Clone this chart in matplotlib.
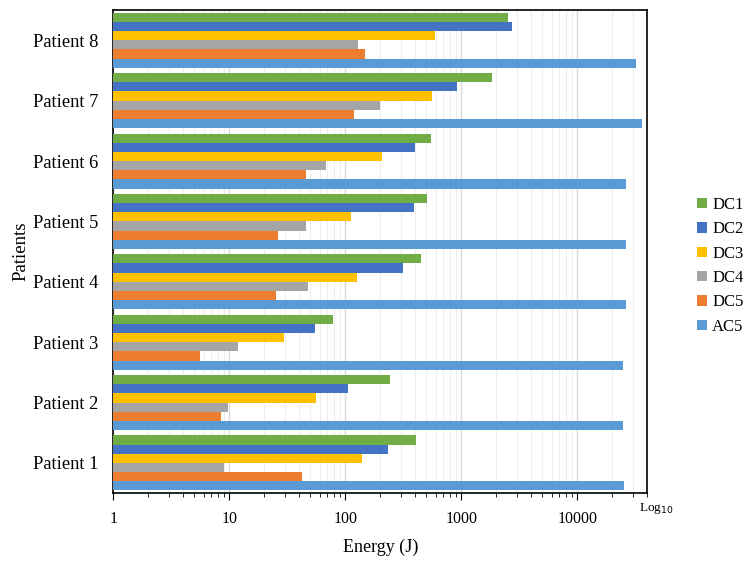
import numpy as np
import matplotlib.pyplot as plt
from matplotlib.ticker import FixedLocator, NullFormatter, LogLocator

plt.rcParams['font.family'] = ['Liberation Serif', 'DejaVu Serif']

patients = ["Patient 1", "Patient 2", "Patient 3", "Patient 4",
            "Patient 5", "Patient 6", "Patient 7", "Patient 8"]

# energies in joules
dc1 = [410, 244, 77.5, 452, 510, 544, 1830, 2550]
dc2 = [234, 106, 54.4, 313, 390, 398, 925, 2730]
dc3 = [140, 56.3, 29.6, 126, 112, 206, 555, 592]
dc4 = [9.0, 9.65, 11.8, 47.5, 46, 68, 197, 128]
dc5 = [42.1, 8.5, 5.63, 25.3, 26.2, 45.9, 119, 149]
ac5 = [25500, 24800, 24800, 26200, 26200, 26400, 36300, 32200]

series = [("AC5", ac5, "#5B9BD5"), ("DC5", dc5, "#ED7D31"),
          ("DC4", dc4, "#A5A5A5"), ("DC3", dc3, "#FFC000"),
          ("DC2", dc2, "#4472C4"), ("DC1", dc1, "#70AD47")]

fig = plt.figure(figsize=(7.56, 5.61), dpi=100)
ax = fig.add_axes([0.150, 0.121, 0.706, 0.861])

y = np.arange(len(patients))
h = 0.152
handles = []
for i, (name, vals, col) in enumerate(series):
    b = ax.barh(y + (i - 2.5) * h, vals, height=h, color=col, label=name,
                zorder=3)
    handles.append(b)

ax.set_xscale("log")
ax.set_xlim(1, 40000)
ax.set_ylim(-0.5, len(patients) - 0.5)
ax.set_yticks(y)
ax.set_yticklabels(patients, fontsize=13.3)
ax.tick_params(axis="y", length=0, pad=11)

ax.xaxis.set_major_locator(FixedLocator([1, 10, 100, 1000, 10000]))
ax.set_xticklabels(["1", "10", "100", "1000", "10000"], fontsize=11.5)
ax.xaxis.set_minor_locator(LogLocator(base=10, subs=np.arange(2, 10)))
ax.xaxis.set_minor_formatter(NullFormatter())
ax.tick_params(axis="x", which="major", length=5, direction="out", pad=8)
ax.tick_params(axis="x", which="minor", length=3, direction="out")

ax.grid(True, axis="x", which="major", color="#D9D9D9", linewidth=1.0, zorder=0)
ax.grid(True, axis="x", which="minor", color="#EDEDED", linewidth=0.8, zorder=0)

for s in ax.spines.values():
    s.set_color("black")
    s.set_linewidth(1.2)

ax.set_xlabel("Energy (J)", fontsize=13, labelpad=8)
ax.set_ylabel("Patients", fontsize=13.5, labelpad=2)

ax.text(0.985, -0.032, "Log$_{10}$", transform=ax.transAxes, fontsize=9.5,
        ha="left", va="center")

leg = fig.legend(handles[::-1], [s[0] for s in series][::-1],
                 loc="center left", bbox_to_anchor=(0.922, 0.526),
                 frameon=False, fontsize=12, handlelength=0.6,
                 handleheight=0.6, handletextpad=0.3, labelspacing=0.5,
                 borderpad=0, borderaxespad=0)

fig.savefig("out.png", dpi=100)
